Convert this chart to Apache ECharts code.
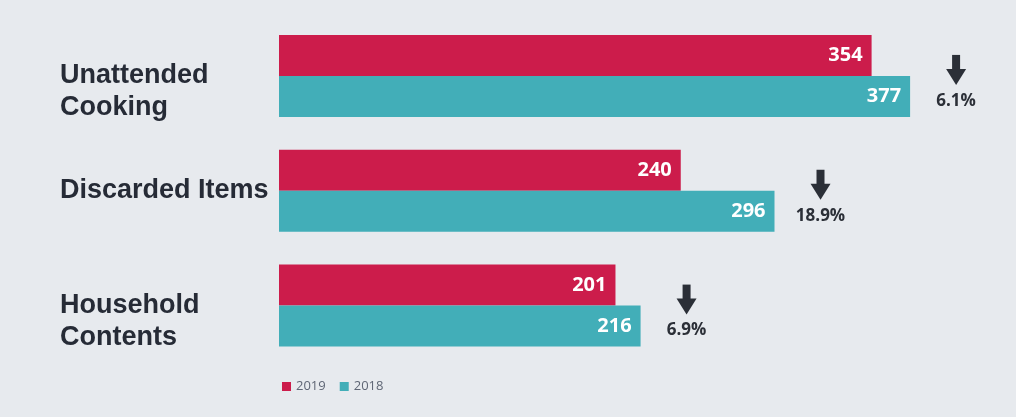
<!DOCTYPE html>
<html><head><meta charset="utf-8">
<script src="https://cdn.jsdelivr.net/npm/echarts@6/dist/echarts.min.js"></script>
<style>html,body{margin:0;padding:0;background:#e7eaee}#c{width:1016px;height:417px}</style>
</head><body><div id="c"></div>
<script>
const categories = ['Unattended\nCooking', 'Discarded Items', 'Household\nContents'];
const values2019 = [354, 240, 201];
const values2018 = [377, 296, 216];
const changeLabels = ['6.1%', '18.9%', '6.9%'];

const chart = echarts.init(document.getElementById('c'));
chart.setOption({
  backgroundColor: '#e7eaee',
  animation: false,
  grid: { left: 279, top: 18.5, height: 344.5, width: 669.6, outerBoundsMode: 'none', containLabel: false },
  xAxis: { type: 'value', min: 0, max: 400, show: false },
  yAxis: {
    type: 'category', data: categories, inverse: true,
    axisLine: { show: false }, axisTick: { show: false },
    axisLabel: {
      align: 'left', margin: 219, color: '#262b36',
      fontFamily: '"Liberation Sans", Arial, sans-serif', fontWeight: 'bold', fontSize: 27, lineHeight: 32,
      padding: [4, 0, 0, 0],
      formatter: v => (v.indexOf('\n') >= 0 ? ' \n' + v : v)
    }
  },
  legend: {
    left: 277, top: 375, itemWidth: 9, itemHeight: 9, itemGap: 14,
    icon: 'rect',
    textStyle: { color: '#5f6675', fontSize: 13, fontFamily: '"Open Sans", sans-serif' },
    data: ['2019', '2018']
  },
  series: [
    {
      name: '2019', type: 'bar', data: values2019, barWidth: 41, barGap: '0%',
      itemStyle: { color: '#cc1c4b' },
      label: { show: true, position: 'insideRight', color: '#fff', fontWeight: 'bold', fontSize: 20, fontFamily: '"Open Sans", sans-serif', distance: 9 }
    },
    {
      name: '2018', type: 'bar', data: values2018, barWidth: 41, barGap: '0%',
      itemStyle: { color: '#42aeb8' },
      label: { show: true, position: 'insideRight', color: '#fff', fontWeight: 'bold', fontSize: 20, fontFamily: '"Open Sans", sans-serif', distance: 9 }
    },
    {
      name: 'change', type: 'custom',
      data: values2018.map((v, i) => [v, i, changeLabels[i]]),
      encode: { x: 0, y: 1 },
      renderItem: function (params, api) {
        const p = api.coord([api.value(0), api.value(1)]);
        const cx = p[0] + 46, cy = p[1];
        return {
          type: 'group',
          children: [
            { type: 'rect', shape: { x: cx - 4, y: cy - 21, width: 8, height: 16 }, style: { fill: '#2b2f37' } },
            { type: 'polygon', shape: { points: [[cx - 10, cy - 7], [cx + 10, cy - 7], [cx, cy + 9]] }, style: { fill: '#2b2f37' } },
            { type: 'text', style: { x: cx, y: cy + 25, text: changeLabels[params.dataIndex], align: 'center', verticalAlign: 'middle', fill: '#2b2f37', font: 'bold 17px "Open Sans", sans-serif' } }
          ]
        };
      }
    }
  ]
});
</script></body></html>
